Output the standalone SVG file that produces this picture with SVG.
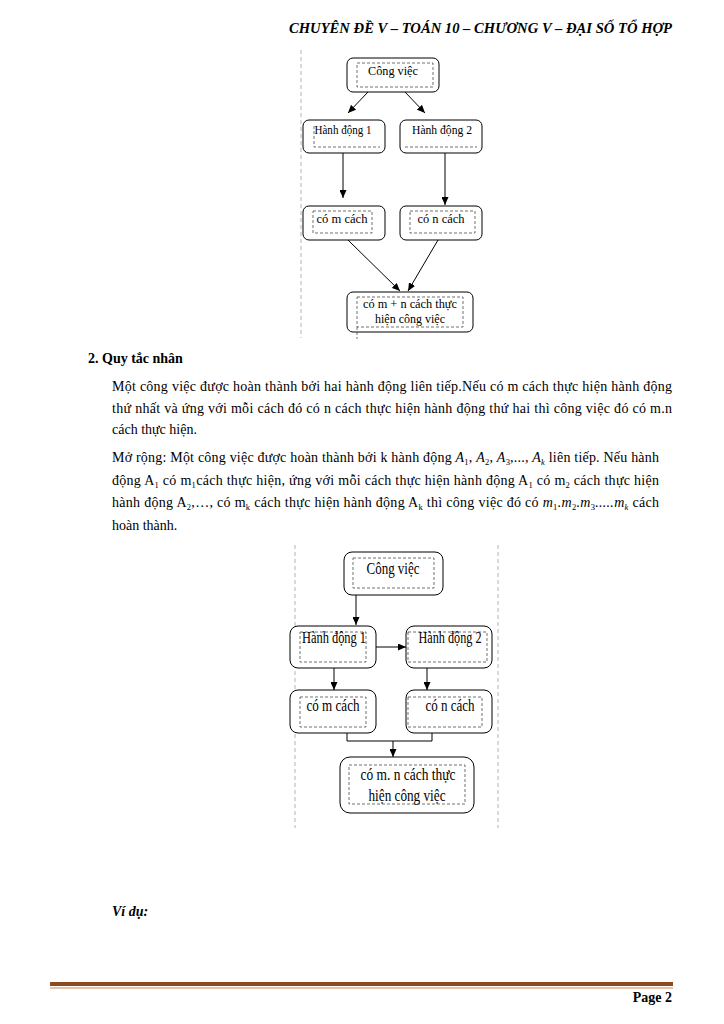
<svg xmlns="http://www.w3.org/2000/svg" width="724" height="1024" viewBox="0 0 724 1024">
<style>
.bg{fill:#fff}
.box{fill:#fff;stroke:#000;stroke-width:1}
.inner{fill:none;stroke:#333;stroke-width:0.7;stroke-dasharray:3 2}
.guide{stroke:#9aa0b8;stroke-width:0.8;stroke-dasharray:4 3;fill:none}
.conn{stroke:#000;stroke-width:1;fill:none}
.t1{font-family:"Liberation Serif","Times New Roman",serif;font-size:12px;text-anchor:middle;fill:#000}
.t2{font-family:"Liberation Serif","Times New Roman",serif;font-size:16px;text-anchor:middle;fill:#000}
.body{font-family:"Liberation Serif","Times New Roman",serif;font-size:14px;fill:#000}
.bold{font-weight:bold}
.bi{font-weight:bold;font-style:italic}
.it{font-style:italic}
.sub{font-size:8.5px}
</style>
<defs>
<marker id="arr" markerUnits="userSpaceOnUse" markerWidth="8" markerHeight="7" refX="8" refY="3.5" orient="auto">
<path d="M0,0 L8,3.5 L0,7 z" fill="#000"/>
</marker>
</defs>
<rect class="bg" x="0" y="0" width="724" height="1024"/>

<!-- Header -->
<text class="body bi" x="672" y="33" text-anchor="end" font-size="13.5" textLength="383" lengthAdjust="spacingAndGlyphs">CHUYÊN ĐỀ V – TOÁN 10 – CHƯƠNG V – ĐẠI SỐ TỔ HỢP</text>

<!-- Diagram 1 guide -->
<line class="guide" x1="301" y1="50" x2="301" y2="338"/>

<g id="d1-connectors">
<line class="conn" x1="368" y1="92" x2="348" y2="113" marker-end="url(#arr)"/>
<line class="conn" x1="405" y1="92" x2="425" y2="113" marker-end="url(#arr)"/>
<line class="conn" x1="343" y1="153" x2="343" y2="198" marker-end="url(#arr)"/>
<line class="conn" x1="445" y1="153" x2="445" y2="205" marker-end="url(#arr)"/>
<line class="conn" x1="348" y1="240" x2="400" y2="291" marker-end="url(#arr)"/>
<line class="conn" x1="438" y1="240" x2="408" y2="291" marker-end="url(#arr)"/>
</g>

<g id="d1-congviec">
<rect class="box" x="347" y="58" width="92" height="34" rx="6"/>
<rect class="inner" x="357" y="63" width="76" height="24"/>
<text class="t1" x="393" y="75" textLength="50" lengthAdjust="spacingAndGlyphs">Công việc</text>
</g>
<g id="d1-hd1">
<rect class="box" x="303" y="120" width="82" height="33" rx="6"/>
<path class="inner" d="M314,126 V147 H380"/>
<text class="t1" x="343" y="134" textLength="57" lengthAdjust="spacingAndGlyphs">Hành động 1</text>
</g>
<g id="d1-hd2">
<rect class="box" x="400" y="120" width="82" height="33" rx="6"/>
<path class="inner" d="M405,147 H477"/>
<text class="t1" x="442" y="134" textLength="60" lengthAdjust="spacingAndGlyphs">Hành động 2</text>
</g>
<g id="d1-com">
<rect class="box" x="303" y="206" width="82" height="34" rx="6"/>
<rect class="inner" x="313" y="211" width="59" height="22"/>
<text class="t1" x="342" y="223" textLength="51" lengthAdjust="spacingAndGlyphs">có m cách</text>
</g>
<g id="d1-con">
<rect class="box" x="400" y="206" width="82" height="34" rx="6"/>
<rect class="inner" x="410" y="211" width="65" height="22"/>
<text class="t1" x="441" y="223" textLength="47" lengthAdjust="spacingAndGlyphs">có n cách</text>
</g>
<g id="d1-result">
<rect class="box" x="347" y="292" width="126" height="40" rx="6"/>
<rect class="inner" x="357" y="297" width="106" height="30"/>
<line class="inner" x1="357" y1="327" x2="357" y2="339"/>
<text class="t1" x="410" y="308" textLength="94" lengthAdjust="spacingAndGlyphs">có m + n cách thực</text>
<text class="t1" x="410" y="323" textLength="70" lengthAdjust="spacingAndGlyphs">hiện công việc</text>
</g>

<!-- Section text -->
<text class="body bold" x="88" y="363">2. Quy tắc nhân</text>
<text class="body" x="112" y="391" textLength="560" lengthAdjust="spacing">Một công việc được hoàn thành bởi hai hành động liên tiếp.Nếu có m cách thực hiện hành động</text>
<text class="body" x="112" y="413" textLength="560" lengthAdjust="spacing">thứ nhất và ứng với mỗi cách đó có n cách thực hiện hành động thứ hai thì công việc đó có m.n</text>
<text class="body" x="112" y="434">cách thực hiện.</text>

<text class="body" x="112" y="462" textLength="547" lengthAdjust="spacing">Mở rộng: Một công việc được hoàn thành bởi k hành động <tspan class="it">A</tspan><tspan class="sub" dy="3">1</tspan><tspan dy="-3">, </tspan><tspan class="it">A</tspan><tspan class="sub" dy="3">2</tspan><tspan dy="-3">, </tspan><tspan class="it">A</tspan><tspan class="sub" dy="3">3</tspan><tspan dy="-3">,..., </tspan><tspan class="it">A</tspan><tspan class="sub it" dy="3">k</tspan><tspan dy="-3"> liên tiếp. Nếu hành</tspan></text>
<text class="body" x="112" y="485" textLength="547" lengthAdjust="spacing">động A<tspan class="sub" dy="3">1</tspan><tspan dy="-3"> có m</tspan><tspan class="sub" dy="3">1</tspan><tspan dy="-3">cách thực hiện, ứng với mỗi cách thực hiện hành động A</tspan><tspan class="sub" dy="3">1</tspan><tspan dy="-3"> có m</tspan><tspan class="sub" dy="3">2</tspan><tspan dy="-3"> cách thực hiện</tspan></text>
<text class="body" x="112" y="507" textLength="547" lengthAdjust="spacing">hành động A<tspan class="sub" dy="3">2</tspan><tspan dy="-3">,…, có m</tspan><tspan class="sub" dy="3">k</tspan><tspan dy="-3"> cách thực hiện hành động A</tspan><tspan class="sub" dy="3">k</tspan><tspan dy="-3"> thì công việc đó có  </tspan><tspan class="it">m</tspan><tspan class="sub" dy="3">1</tspan><tspan dy="-3" class="it">.m</tspan><tspan class="sub" dy="3">2</tspan><tspan dy="-3" class="it">.m</tspan><tspan class="sub" dy="3">3</tspan><tspan dy="-3" class="it">.....m</tspan><tspan class="sub it" dy="3">k</tspan><tspan dy="-3">  cách</tspan></text>
<text class="body" x="112" y="530">hoàn thành.</text>

<!-- Diagram 2 guides -->
<line class="guide" x1="295" y1="545" x2="295" y2="828"/>
<line class="guide" x1="498" y1="545" x2="498" y2="828"/>

<g id="d2-connectors">
<line class="conn" x1="356" y1="595" x2="356" y2="625" marker-end="url(#arr)"/>
<line class="conn" x1="376" y1="647" x2="406" y2="647" marker-end="url(#arr)"/>
<line class="conn" x1="334" y1="668" x2="334" y2="690" marker-end="url(#arr)"/>
<line class="conn" x1="427" y1="668" x2="427" y2="690" marker-end="url(#arr)"/>
<path class="conn" d="M347,733 V741 H432 V733"/>
<line class="conn" x1="393" y1="741" x2="393" y2="757" marker-end="url(#arr)"/>
</g>

<g id="d2-congviec">
<rect class="box" x="344" y="552" width="99" height="43" rx="8"/>
<rect class="inner" x="353" y="558" width="81" height="30"/>
<text class="t2" x="393" y="574" textLength="53" lengthAdjust="spacingAndGlyphs">Công việc</text>
</g>
<g id="d2-hd1">
<rect class="box" x="290" y="626" width="86" height="42" rx="8"/>
<rect class="inner" x="300" y="632" width="66" height="30"/>
<text class="t2" x="334" y="643" textLength="64" lengthAdjust="spacingAndGlyphs">Hành động 1</text>
</g>
<g id="d2-hd2">
<rect class="box" x="406" y="626" width="86" height="42" rx="8"/>
<rect class="inner" x="408" y="632" width="79" height="30"/>
<text class="t2" x="450" y="643" textLength="63" lengthAdjust="spacingAndGlyphs">Hành động 2</text>
</g>
<g id="d2-com">
<rect class="box" x="290" y="690" width="86" height="43" rx="8"/>
<rect class="inner" x="300" y="697" width="66" height="30"/>
<text class="t2" x="333" y="711" textLength="53" lengthAdjust="spacingAndGlyphs">có m cách</text>
</g>
<g id="d2-con">
<rect class="box" x="406" y="690" width="86" height="43" rx="8"/>
<rect class="inner" x="408" y="697" width="74" height="30"/>
<text class="t2" x="450" y="711" textLength="49" lengthAdjust="spacingAndGlyphs">có n cách</text>
</g>
<g id="d2-result">
<rect class="box" x="340" y="757" width="134" height="56" rx="10"/>
<rect class="inner" x="349" y="765" width="116" height="39"/>
<text class="t2" x="408" y="780" textLength="95" lengthAdjust="spacingAndGlyphs">có m. n cách thực</text>
<text class="t2" x="407" y="801" textLength="77" lengthAdjust="spacingAndGlyphs">hiện công việc</text>
</g>

<text class="body bi" x="112" y="916">Ví dụ:</text>

<!-- Footer -->
<rect x="50" y="982" width="623" height="4" fill="#8e4a1c"/>
<line x1="50" y1="988" x2="673" y2="988" stroke="#c8875a" stroke-width="1"/>
<text class="body bold" x="672" y="1002" text-anchor="end" font-size="12.5">Page 2</text>
</svg>
